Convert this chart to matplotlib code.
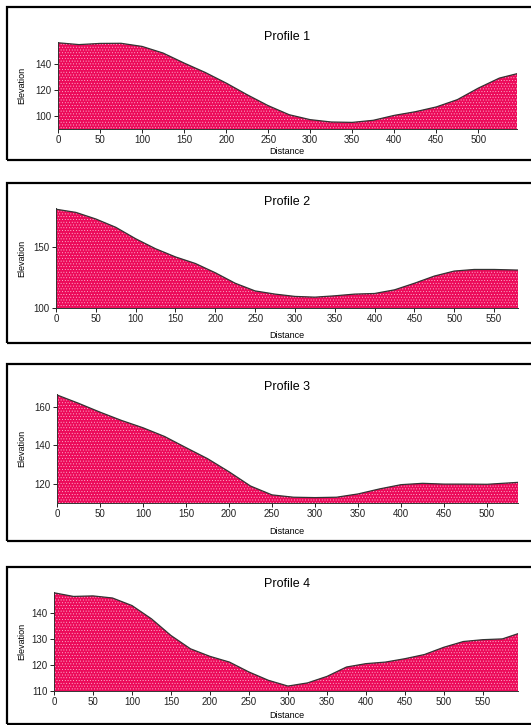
import numpy as np
import matplotlib.pyplot as plt
from matplotlib.patches import Rectangle

plt.rcParams['font.family'] = ['Liberation Sans', 'DejaVu Sans']
plt.rcParams['hatch.linewidth'] = 0.3

# ============================================
# DATEN
# ============================================
d1 = [0, 25, 50, 75, 100, 125, 150, 175, 200, 225, 250, 275, 300, 325, 350,
      375, 400, 425, 450, 475, 500, 525, 546]
e1 = [156.4, 155.0, 155.9, 156.0, 153.6, 148.5, 140.8, 133.6, 125.4, 116.4, 108.0,
      101.0, 97.2, 95.4, 95.1, 96.7, 100.5, 103.3, 107.0, 112.6, 121.5, 129.2, 132.6]

d2 = [0, 25, 50, 75, 100, 125, 150, 175, 200, 225, 250, 275, 300, 325, 350,
      375, 400, 425, 450, 475, 500, 525, 550, 580]
e2 = [181.0, 178.4, 173.0, 166.2, 156.8, 148.6, 141.9, 136.5, 128.9, 120.3, 114.0,
      111.4, 109.5, 108.9, 110.0, 111.4, 111.9, 114.9, 120.3, 126.2, 130.3, 131.6,
      131.6, 131.1]

d3 = [0, 25, 50, 75, 100, 125, 150, 175, 200, 225, 250, 275, 300, 325, 350,
      375, 400, 425, 450, 475, 500, 536]
e3 = [166.0, 161.7, 157.1, 152.8, 149.0, 144.5, 138.7, 133.0, 126.2, 118.8, 114.2,
      113.0, 112.8, 113.0, 114.7, 117.3, 119.5, 120.2, 119.8, 119.8, 119.7, 120.7]

d4 = [0, 25, 50, 75, 100, 125, 150, 175, 200, 225, 250, 275, 300, 325, 350,
      375, 400, 425, 450, 475, 500, 525, 550, 575, 595]
e4 = [147.7, 146.3, 146.5, 145.7, 142.8, 137.7, 131.3, 126.2, 123.3, 121.1, 117.3,
      114.1, 111.9, 113.1, 115.6, 119.2, 120.5, 121.1, 122.4, 124.0, 126.8, 129.0,
      129.7, 130.0, 132.0]

titles = ["Profile 1", "Profile 2", "Profile 3", "Profile 4"]
yticks = [[100, 120, 140], [100, 150], [120, 140, 160], [110, 120, 130, 140]]
xticks = [list(range(0, 501, 50)), list(range(0, 551, 50)),
          list(range(0, 501, 50)), list(range(0, 551, 50))]
ylims = [(90, 157), (100, 182), (110, 166.5), (110, 148)]
profiles = [(d1, e1), (d2, e2), (d3, e3), (d4, e4)]

# ============================================
# LAYOUT (Pixel)
# ============================================
W, H = 531, 725
# axes: left, right, top, bottom in px
ax_px = [(58, 517, 42, 129), (56, 518, 208, 308), (57, 518, 394, 503), (54, 518, 592, 691)]
box_px = [(7, 7, 160), (7, 183, 343), (7, 364, 541), (7, 567, 724)]
title_y = [37, 202, 387, 584]
xlab_y = [151, 335, 532, 716]

fig = plt.figure(figsize=(W/100, H/100), dpi=100)

for i in range(4):
    l, r, t, b = ax_px[i]
    ax = fig.add_axes([l/W, 1 - b/H, (r-l)/W, (b-t)/H])
    x, y = profiles[i]
    ax.fill_between(x, ylims[i][0], y, facecolor='#EC0A5A', edgecolor='#FFC8DC',
                    hatch='......', linewidth=0)
    ax.plot(x, y, color='#333333', lw=0.9)
    ax.set_xlim(0, x[-1])
    ax.set_ylim(*ylims[i])
    ax.set_xticks(xticks[i])
    ax.set_yticks(yticks[i])
    ax.tick_params(labelsize=7, length=3, width=0.7, pad=1.5, colors='#222222')
    for s in ['top', 'right']:
        ax.spines[s].set_visible(False)
    for s in ['left', 'bottom']:
        ax.spines[s].set_linewidth(0.7)
        ax.spines[s].set_color('#333333')
    ax.patch.set_alpha(0)

    fig.text(287/W, 1 - title_y[i]/H, titles[i], ha='center', va='center', fontsize=9)
    fig.text(287/W, 1 - xlab_y[i]/H, "Distance", ha='center', va='center', fontsize=6.5)
    fig.text(22/W, 1 - (t + b)/2/H, "Elevation", ha='center', va='center', rotation=90,
             fontsize=6.5, family=['Liberation Sans Narrow', 'Liberation Sans'])

    bl, bt, bb = box_px[i]
    fig.add_artist(Rectangle((bl/W, 1 - bb/H), (W + 10 - bl)/W, (bb - bt)/H,
                             transform=fig.transFigure, fill=False, lw=1.6,
                             edgecolor='black', clip_on=False))

plt.savefig('out.png', dpi=100)
